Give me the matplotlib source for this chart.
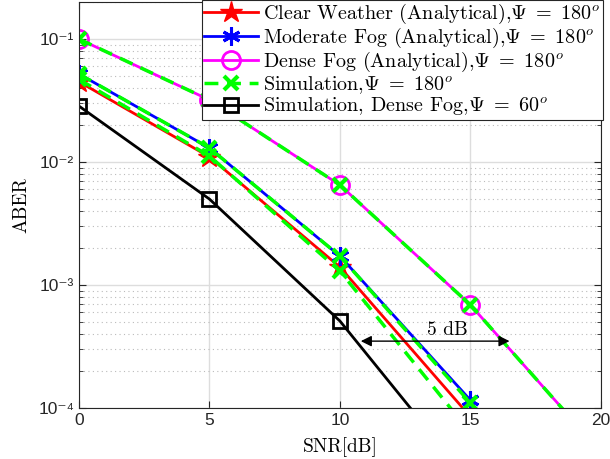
import numpy as np
import matplotlib
matplotlib.use("Agg")
import matplotlib.pyplot as plt
from matplotlib.ticker import FixedLocator, FixedFormatter, LogLocator, NullFormatter

plt.rcParams['mathtext.fontset'] = 'cm'
plt.rcParams['axes.unicode_minus'] = False

# data
snr = [0, 5, 10, 15]
snr_dense = [0, 5, 10, 15, 20]
clear_ana = [0.045, 0.011, 0.0014, 8.5e-5]
moderate_ana = [0.052, 0.013, 0.00172, 1.16e-4]
dense_ana = [0.1, 0.032, 0.0065, 6.9e-4, 4.4e-5]
sim_clear = [0.047, 0.0112, 0.0013, 6.3e-5]
sim_moderate = [0.052, 0.013, 0.00172, 1.1e-4]
sim_dense = [0.1, 0.032, 0.0065, 6.9e-4, 4.4e-5]
sim_dense60 = [0.0285, 0.005, 5.1e-4, 2.5e-5]

fig = plt.figure(figsize=(6.1, 4.59), dpi=100)
ax = fig.add_axes([0.1295, 0.111, 0.8555, 0.8846])

ax.semilogy(snr, clear_ana, '-', color='red', lw=2, marker='*', ms=16,
            label=r'Clear Weather (Analytical),$\Psi\ =\ 180^o$')
ax.semilogy(snr, moderate_ana, '-', color='blue', lw=2, marker=(6, 2, 0), ms=13, mew=2.2,
            label=r'Moderate Fog (Analytical),$\Psi\ =\ 180^o$')
ax.semilogy(snr_dense, dense_ana, '-', color='magenta', lw=2, marker='o', ms=13,
            mfc='none', mew=2, label=r'Dense Fog (Analytical),$\Psi\ =\ 180^o$')
ax.semilogy(snr, sim_clear, '--', color='#00ff00', lw=2.5, marker='x', ms=10, mew=3,
            dashes=(4, 2.5), label=r'Simulation,$\Psi\ =\ 180^o$')
ax.semilogy(snr, sim_moderate, '--', color='#00ff00', lw=2.5, marker='x', ms=10, mew=3,
            dashes=(4, 2.5))
ax.semilogy(snr_dense, sim_dense, '--', color='#00ff00', lw=2.5, marker='x', ms=10, mew=3,
            dashes=(4, 2.5))
ax.semilogy(snr, sim_dense60, '-', color='black', lw=2, marker='s', ms=10.5,
            mfc='none', mew=2, label=r'Simulation, Dense Fog,$\Psi\ =\ 60^o$')

ax.set_xlim(0, 20)
ax.set_ylim(1e-4, 0.2)

ax.xaxis.set_major_locator(FixedLocator([0, 5, 10, 15, 20]))
ax.yaxis.set_major_locator(FixedLocator([1e-4, 1e-3, 1e-2, 1e-1]))
ax.yaxis.set_major_formatter(FixedFormatter(['10⁻⁴', '10⁻³', '10⁻²', '10⁻¹']))
ax.yaxis.set_minor_locator(LogLocator(base=10, subs=np.arange(2, 10), numticks=20))
ax.yaxis.set_minor_formatter(NullFormatter())

for lab in ax.get_xticklabels() + ax.get_yticklabels():
    lab.set_family(['Liberation Sans', 'DejaVu Sans'])
    lab.set_fontsize(12.5)
    lab.set_color('#262626')

ax.tick_params(which='both', direction='in', top=True, right=True, color='#262626')
ax.tick_params(which='major', length=5)
ax.tick_params(which='minor', length=3)
ax.grid(True, which='major', color='#dddddd', lw=1)
ax.grid(True, which='minor', axis='y', color='#bbbbbb', ls=(0, (1, 3)), lw=0.8)
ax.set_axisbelow(True)
for s in ax.spines.values():
    s.set_color('#262626')

ax.set_xlabel('SNR[dB]', family='cmr10', fontsize=14, labelpad=7)
ax.set_ylabel('ABER', family='cmr10', fontsize=14, labelpad=6)

# 5 dB double arrow
ax.annotate('', xy=(10.8, 3.5e-4), xytext=(16.5, 3.5e-4),
            arrowprops=dict(arrowstyle='<|-|>', color='black', lw=1, mutation_scale=16,
                            shrinkA=0, shrinkB=0))
ax.text(14.1, 4.3e-4, '5 dB', family='cmr10', fontsize=14, ha='center', va='center')

leg = ax.legend(loc='upper right', bbox_to_anchor=(1.004, 1.005), prop={'family': 'cmr10', 'size': 14.5},
                handlelength=2.7, handletextpad=0.25, labelspacing=0.0, borderpad=0.1,
                fancybox=False, framealpha=1, edgecolor='#262626', borderaxespad=0)
leg.get_frame().set_linewidth(0.8)

fig.savefig('out.png', dpi=100)
